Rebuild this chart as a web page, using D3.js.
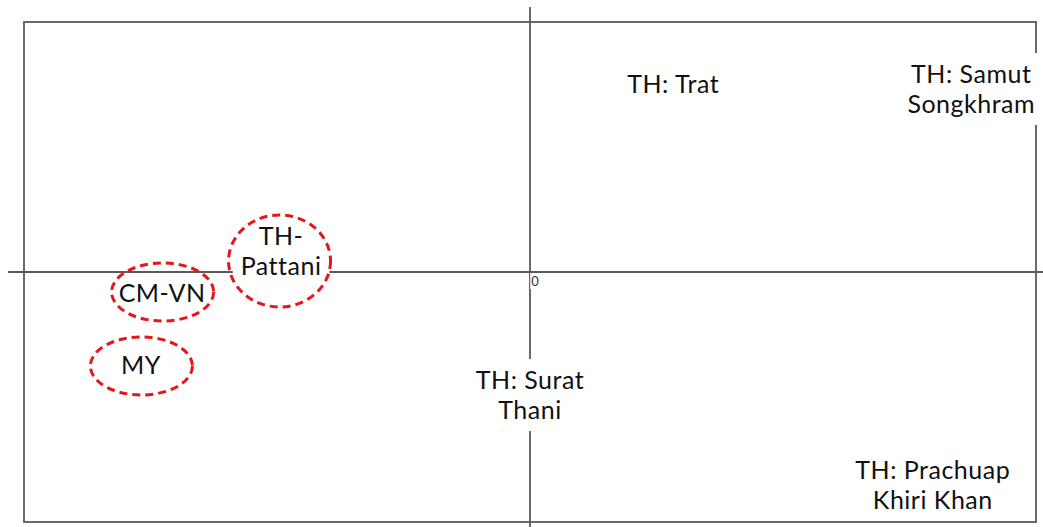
<!DOCTYPE html>
<html>
<head>
<meta charset="utf-8">
<script src="https://cdn.jsdelivr.net/npm/d3@7"></script>
<style>
  html, body { margin: 0; padding: 0; background: #fff; }
  svg { display: block; }
  text { font-family: Lato, "Open Sans", sans-serif; }
</style>
</head>
<body>
<svg id="chart" width="1043" height="527"></svg>
<script>
// ---- data ----
const labels = [
  ["TH: Trat"],
  ["TH: Samut", "Songkhram"],
  ["TH-", "Pattani"],
  ["CM-VN"],
  ["MY"],
  ["TH: Surat", "Thani"],
  ["TH: Prachuap", "Khiri Khan"]
];
const xValues = [0.283, 0.872, -0.492, -0.727, -0.769, 0.0, 0.796];
const yValues = [0.752, 0.732, 0.084, -0.084, -0.372, -0.492, -0.852];
const highlightedNames = ["TH-", "CM-VN", "MY"];
const originTicks = ["0"];

// ---- layout ----
const svg = d3.select("#chart");
const x = d3.scaleLinear().domain([-1, 1]).range([24, 1036]);
const y = d3.scaleLinear().domain([-1, 1]).range([522, 22]);

const lineColor = "#5a5a5a";

// frame
svg.append("rect")
  .attr("x", x(-1)).attr("y", y(1))
  .attr("width", x(1) - x(-1)).attr("height", y(-1) - y(1))
  .attr("fill", "none").attr("stroke", lineColor).attr("stroke-width", 1.8);

// axes through origin
svg.append("line")
  .attr("x1", x(-1) - 16).attr("x2", x(1) + 8)
  .attr("y1", y(0)).attr("y2", y(0))
  .attr("stroke", lineColor).attr("stroke-width", 1.8);
svg.append("line")
  .attr("x1", x(0)).attr("x2", x(0))
  .attr("y1", y(1) - 15).attr("y2", y(-1) + 10)
  .attr("stroke", lineColor).attr("stroke-width", 1.8);

// origin tick label
const og = svg.append("g");
const ot = og.append("text")
  .attr("x", x(0) + 5).attr("y", y(0) + 14)
  .attr("text-anchor", "middle")
  .attr("font-size", 13).attr("fill", "#333")
  .text(originTicks[0]);
const ob = ot.node().getBBox();
og.insert("rect", "text")
  .attr("x", ob.x - 1).attr("y", y(0) + 1)
  .attr("width", ob.width + 2).attr("height", 16)
  .attr("fill", "#fff");

// labels
const fontSize = 25;
const lineH = 30;
const pts = labels.map((l, i) => ({ lines: l, xv: xValues[i], yv: yValues[i], hl: highlightedNames.includes(l[0]) }));

const g = svg.selectAll("g.lab").data(pts).join("g").attr("class", "lab");
g.each(function (d) {
  const grp = d3.select(this);
  const cx = x(d.xv), cy = y(d.yv);
  const n = d.lines.length;
  const t = grp.append("text")
    .attr("text-anchor", "middle")
    .attr("font-size", fontSize)
    .attr("letter-spacing", 0.5)
    .attr("fill", "#111");
  d.lines.forEach((s, k) => {
    t.append("tspan")
      .attr("x", cx)
      .attr("y", cy + (k - (n - 1) / 2) * lineH)
      .attr("dy", "0.35em")
      .text(s);
  });
  const bb = t.node().getBBox();
  const padY = n > 1 ? 6 : 3;
  grp.insert("rect", "text")
    .attr("x", bb.x - 8).attr("y", cy - (n * lineH) / 2 - padY)
    .attr("width", bb.width + 16).attr("height", n * lineH + 2 * padY)
    .attr("fill", "#fff");
});

// dashed ellipses around highlighted items
const ellSize = { "TH-": [51, 46, -1.5, 10], "CM-VN": [51, 29, 0.5, -1], "MY": [51, 29, 0.5, 1] };
svg.selectAll("ellipse.hl").data(pts.filter(d => d.hl)).join("ellipse")
  .attr("class", "hl")
  .attr("cx", d => x(d.xv) + ellSize[d.lines[0]][2])
  .attr("cy", d => y(d.yv) + ellSize[d.lines[0]][3])
  .attr("rx", d => ellSize[d.lines[0]][0])
  .attr("ry", d => ellSize[d.lines[0]][1])
  .attr("fill", "none")
  .attr("stroke", "#e8141c")
  .attr("stroke-width", 3)
  .attr("stroke-dasharray", "8,5");
</script>
</body>
</html>
